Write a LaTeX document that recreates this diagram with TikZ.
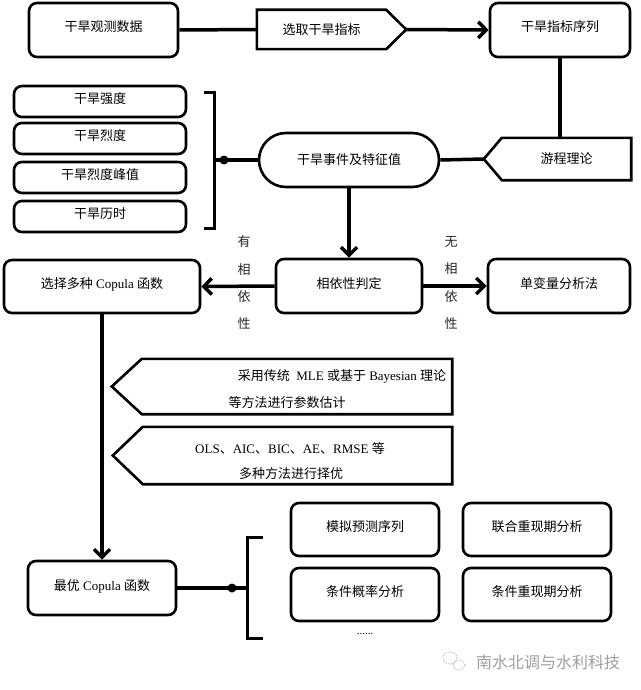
\documentclass[tikz,border=0pt]{standalone}
\usepackage{fontspec}
\setmainfont{Liberation Serif}
\newfontfamily\cjk{Noto Sans CJK SC}
\newcommand{\zh}[1]{{\cjk #1}}
\usetikzlibrary{arrows.meta,shapes.misc,calc}
\begin{document}
\begin{tikzpicture}[x=1pt,y=-1pt,
  box/.style={draw, line width=2.6pt, rounded corners=8pt, inner sep=0pt, font=\fontsize{13}{15}\selectfont, text height=9pt, text depth=5pt},
  plain/.style={inner sep=0pt, font=\fontsize{13}{15}\selectfont},
  outline/.style={draw, line width=2.6pt, line join=miter},
  conn/.style={line width=3.5pt},
  arr/.style={conn, -{Straight Barb[length=8pt,width=16pt]}},
  dotmark/.style={circle, fill, inner sep=0pt, minimum size=9pt},
  vlab/.style={align=center, inner sep=0pt, text=black!85, font={\cjk\fontsize{13}{27.3}\selectfont}},
]
\useasboundingbox (0,0) rectangle (640,690);
\fill[white] (0,0) rectangle (640,690);

% top row
\node[box, minimum width=149pt, minimum height=54pt] (obs) at (103.5,30) {\zh{干旱观测数据}};
\node[plain, minimum width=129pt, minimum height=39pt] (sel) at (321.5,29.5) {\zh{选取干旱指标}};
\coordinate (selTip) at ($(sel.east)+(20,0)$);
\draw[outline] (sel.north west) -- (sel.north east) -- (selTip) -- (sel.south east) -- (sel.south west) -- cycle;
\node[box, minimum width=140pt, minimum height=54pt] (seq) at (560,30) {\zh{干旱指标序列}};
\draw[conn] (obs.east) -- (sel.west);
\draw[arr] (selTip) -- (seq.west);

% run theory
\node[plain, minimum width=129pt, minimum height=42pt] (run) at (566.5,159) {\zh{游程理论}};
\coordinate (runTip) at ($(run.west)+(-18,0)$);
\draw[outline] (run.north west) -- (run.north east) -- (run.south east) -- (run.south west) -- (runTip) -- cycle;
\draw[conn] (seq.south) -- (seq.south |- run.north);

% drought event
\node[draw, line width=2.6pt, rounded rectangle, minimum width=180pt, minimum height=54pt, inner sep=0pt, font=\fontsize{13}{15}\selectfont] (evt) at (349,160) {\zh{干旱事件及特征值}};
\draw[conn] (evt.east) -- (runTip);

% characteristic boxes
\node[box, minimum width=172pt, minimum height=31pt] (c1) at (100,101.5) {\zh{干旱强度}};
\node[box, minimum width=172pt, minimum height=31pt] (c2) at (100,138.5) {\zh{干旱烈度}};
\node[box, minimum width=172pt, minimum height=31pt] (c3) at (100,177.5) {\zh{干旱烈度峰值}};
\node[box, minimum width=172pt, minimum height=31pt] (c4) at (100,216.5) {\zh{干旱历时}};
\coordinate (brT) at (214,93);
\coordinate (brB) at (214,228);
\coordinate (brM) at (214,160);
\draw[outline, line width=3pt] ($(brT)+(-10,0)$) -- (brT) -- (brB) -- ($(brB)+(-10,0)$);
\draw[conn] (evt.west) -- (brM);
\node[dotmark] (dotA) at (224,160) {};

% dependence
\node[box, minimum width=146pt, minimum height=54pt] (dep) at (349,286) {\zh{相依性判定}};
\node[box, minimum width=196pt, minimum height=53pt] (cop) at (102,286.5) {\zh{选择多种} Copula \zh{函数}};
\node[box, minimum width=142pt, minimum height=54pt] (uni) at (559,286) {\zh{单变量分析法}};
\draw[arr] (evt.south) -- (dep.north);
\draw[arr] (dep.west) -- (cop.east);
\draw[arr] (dep.east) -- (uni.west);
\node[vlab] (yes) at (244,283) {有\\相\\依\\性};
\node[vlab] (no) at (451,283) {无\\相\\依\\性};

% parameter estimation arrows
\node[plain, minimum width=310pt, minimum height=55pt] (pa) at (297,386.5) {};
\coordinate (paTip) at ($(pa.west)+(-30,0)$);
\draw[outline] (pa.north west) -- (pa.north east) -- (pa.south east) -- (pa.south west) -- (paTip) -- cycle;
\node[plain] (pa1) at (342,376) {\zh{采用传统}\ \ MLE \zh{或基于} Bayesian \zh{理论}};
\node[plain] (pa2) at (287,403) {\zh{等方法进行参数估计}};

\node[plain, minimum width=309pt, minimum height=57pt] (pb) at (297.5,455.5) {};
\coordinate (pbTip) at ($(pb.west)+(-30,0)$);
\draw[outline] (pb.north west) -- (pb.north east) -- (pb.south east) -- (pb.south west) -- (pbTip) -- cycle;
\node[plain] (pb1) at (290,449) {OLS\zh{、}AIC\zh{、}BIC\zh{、}AE\zh{、}RMSE \zh{等}};
\node[plain] (pb2) at (291,474) {\zh{多种方法进行择优}};

% best copula
\node[box, minimum width=148pt, minimum height=54pt] (best) at (102,588) {\zh{最优} Copula \zh{函数}};
\draw[arr] (cop.south) -- (best.north);
\coordinate (bT) at (247,537);
\coordinate (bB) at (247,638);
\coordinate (bM) at (247,588);
\draw[outline, line width=3pt] ($(bT)+(16,0)$) -- (bT) -- (bB) -- ($(bB)+(16,0)$);
\draw[conn] (best.east) -- (bM);
\node[dotmark] (dotB) at (232,588) {};

\node[box, minimum width=148pt, minimum height=53pt] (sim) at (365,529.5) {\zh{模拟预测序列}};
\node[box, minimum width=148pt, minimum height=53pt] (jnt) at (537,529.5) {\zh{联合重现期分析}};
\node[box, minimum width=148pt, minimum height=53pt] (cpa) at (365,594.5) {\zh{条件概率分析}};
\node[box, minimum width=148pt, minimum height=53pt] (cra) at (537,594.5) {\zh{条件重现期分析}};
\node[plain, font=\fontsize{11}{13}\selectfont] (more) at (365,634) {......};

% watermark
\draw[gray!55, line width=0.8pt, dash pattern=on 1.2pt off 1pt] (450,658) ellipse (7 and 6);
\draw[gray!55, line width=0.8pt, dash pattern=on 1.2pt off 1pt] (459,665) ellipse (6 and 5);
\node[inner sep=0pt, text=gray!75, font={\cjk\fontsize{16}{18}\selectfont}] (wm) at (548,662) {南水北调与水利科技};
\end{tikzpicture}
\end{document}
